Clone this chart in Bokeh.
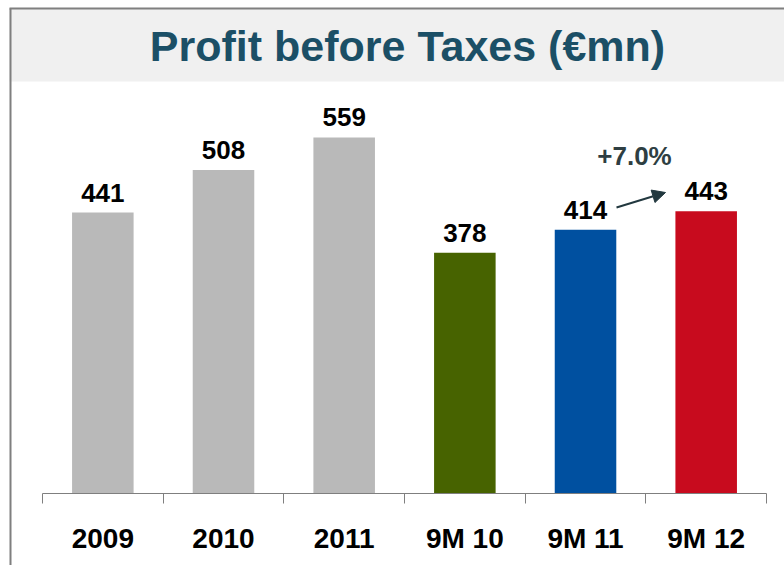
from bokeh.plotting import figure
from bokeh.models import Range1d, LinearAxis, FixedTicker, Arrow, NormalHead
from bokeh.core.properties import value
from bokeh.embed import file_html
from bokeh.resources import INLINE

# ---- data ----
categories = ["2009", "2010", "2011", "9M 10", "9M 11", "9M 12"]
profits = [441, 508, 559, 378, 414, 443]
bar_colors = ["#b9b9b9", "#b9b9b9", "#b9b9b9", "#476300", "#0050a0", "#c80b1e"]
title_text = "Profit before Taxes (\u20acmn)"
growth_label = "+7.0%"

centers = [i + 0.5 for i in range(len(categories))]
boundaries = [float(i) for i in range(len(categories) + 1)]

# ---- scales (frame spans whole figure) ----
W, H = 784, 565
px_per_cat = 120.67
px_per_unit = 0.637
x0_px = 42      # where category 0 boundary sits (px from left)
y0_px = 493     # where value 0 sits (px from top)
xs = -x0_px / px_per_cat
xe = xs + W / px_per_cat
ye = y0_px / px_per_unit
ys = ye - H / px_per_unit

def xd(px):
    return xs + px / px_per_cat

def yd(px):
    return ye - px / px_per_unit

p = figure(width=W, height=H, x_range=Range1d(xs, xe), y_range=Range1d(ys, ye),
           x_axis_type=None, y_axis_type=None, toolbar_location=None,
           output_backend="svg", min_border=0)
p.outline_line_color = None
p.xgrid.visible = False
p.ygrid.visible = False
p.background_fill_color = "white"
p.border_fill_color = "white"

# title band
p.quad(left=xd(9), right=xe, bottom=yd(81), top=yd(8), fill_color="#f0f0f0", line_color=None)
# borders (top and left)
p.segment(x0=xd(9), y0=yd(8), x1=xe, y1=yd(8), line_color="#7f7f7f", line_width=2)
p.segment(x0=xd(10), y0=ys, x1=xd(10), y1=yd(8), line_color="#7f7f7f", line_width=2)

p.text(x=[xd(407)], y=[yd(45)], text=[title_text],
       text_font=value("Liberation Sans"), text_font_style="bold",
       text_font_size="43px", text_color="#1b4f66",
       text_align="center", text_baseline="alphabetic")

# bars
p.vbar(x=centers, top=profits, bottom=0, width=0.51, fill_color=bar_colors, line_color=None)

# value labels
p.text(x=centers, y=profits, text=[str(v) for v in profits], y_offset=-20,
       text_font=value("Liberation Sans"), text_font_style="bold",
       text_font_size="26px", text_color="black",
       text_align="center", text_baseline="alphabetic")

# growth annotation
p.text(x=[xd(634)], y=[yd(155)], text=[growth_label],
       text_font=value("Liberation Sans"), text_font_style="bold",
       text_font_size="26px", text_color="#2e3e42",
       text_align="center", text_baseline="alphabetic")
p.add_layout(Arrow(x_start=xd(616), y_start=yd(207), x_end=xd(665), y_end=yd(192),
                   line_color="#22383f", line_width=2,
                   end=NormalHead(size=13, fill_color="#22383f", line_color="#22383f")))

# x axis with boundary ticks and centered labels
ax = LinearAxis(fixed_location=0, bounds=(0, len(categories)),
                ticker=FixedTicker(ticks=centers, minor_ticks=boundaries))
ax.major_label_overrides = {c: lab for c, lab in zip(centers, categories)}
ax.major_tick_line_color = None
ax.major_tick_out = 0
ax.major_tick_in = 0
ax.minor_tick_line_color = "#7f7f7f"
ax.minor_tick_out = 10
ax.minor_tick_in = 0
ax.axis_line_color = "#7f7f7f"
ax.axis_line_width = 1
ax.major_label_standoff = 19
ax.major_label_text_font = "Liberation Sans"
ax.major_label_text_font_style = "bold"
ax.major_label_text_font_size = "28px"
ax.major_label_text_color = "black"
p.add_layout(ax, "below")

open("out.html", "w").write(file_html(p, INLINE))
